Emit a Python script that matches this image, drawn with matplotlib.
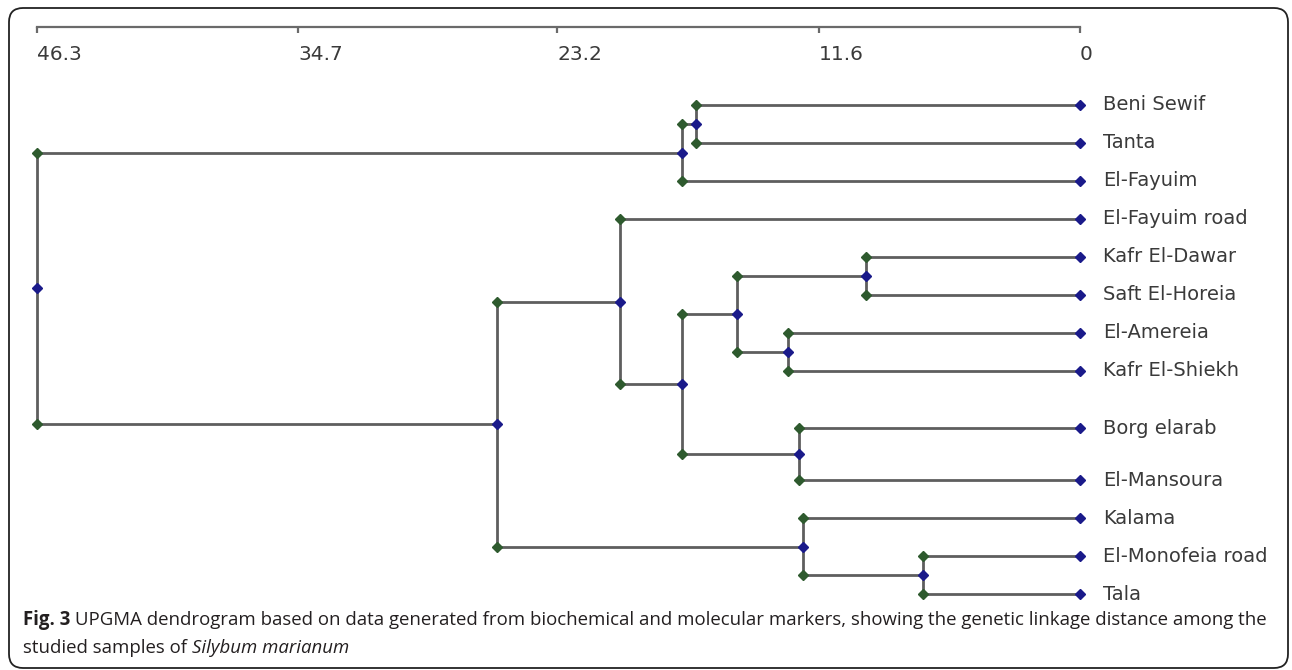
import numpy as np
import matplotlib.pyplot as plt
from matplotlib.patches import FancyBboxPatch

W, H = 1292, 670

labels = ["Beni Sewif", "Tanta", "El-Fayuim", "El-Fayuim road", "Kafr El-Dawar",
          "Saft El-Horeia", "El-Amereia", "Kafr El-Shiekh", "Borg elarab",
          "El-Mansoura", "Kalama", "El-Monofeia road", "Tala"]

# UPGMA joins: ids < 13 are samples, id 13+k is the k-th join below
join_a = [0, 13, 4, 6, 15, 8, 17, 3, 11, 10, 20, 14]
join_b = [1, 2, 5, 7, 16, 9, 18, 19, 12, 21, 22, 23]
join_dist = [17.05, 17.67, 9.50, 12.96, 15.23, 12.47, 17.67, 20.42, 6.97, 12.30, 25.88, 46.3]

tick_vals = [46.3, 34.7, 23.2, 11.6, 0]
tick_text = ["46.3", "34.7", "23.2", "11.6", "0"]

line_col = "#5e5e5e"
green = "#2e5a2e"
blue = "#1a1a8a"
txt_col = "#3a3a3a"

fig = plt.figure(figsize=(W / 100, H / 100), dpi=100)

# rounded frame around the whole figure
frame = fig.add_axes([0, 0, 1, 1])
frame.set_xlim(0, W)
frame.set_ylim(H, 0)
frame.axis("off")
frame.add_patch(FancyBboxPatch((9, 8), W - 13, H - 10,
                               boxstyle="round,pad=0,rounding_size=14",
                               fill=False, ec="#222222", lw=1.3))

# dendrogram axes: top spine is the distance scale
top_px, bot_px, row0_px, row_px = 27, 610, 105, 38
ax = fig.add_axes([37 / W, 1 - bot_px / H, (1080 - 37) / W, (bot_px - top_px) / H])
ax.set_xlim(46.3, 0)
ax.set_ylim((bot_px - row0_px) / row_px, -(row0_px - top_px) / row_px)
ax.patch.set_alpha(0)
for s in ["left", "right", "bottom"]:
    ax.spines[s].set_visible(False)
ax.spines["top"].set_color("#6a6a6a")
ax.spines["top"].set_linewidth(1.6)
ax.xaxis.tick_top()
ax.set_xticks(tick_vals)
ax.tick_params(axis="x", direction="in", length=4, width=1.6, color="#6a6a6a",
               labeltop=False, labelbottom=False)
ax.set_yticks([])
for v, t in zip(tick_vals, tick_text):
    ax.annotate(t, xy=(v, 1), xycoords=("data", "axes fraction"),
                xytext=(0, -20), textcoords="offset points",
                ha="left", va="center", fontsize=14.5, color=txt_col,
                family="DejaVu Sans")

# leaf rows (original leaves a wider gap around Borg elarab)
rows = np.arange(len(labels), dtype=float)
rows[8] += 0.5
rows[9:] += 0.87

ypos = {i: rows[i] for i in range(len(labels))}
xpos = {i: 0.0 for i in range(len(labels))}
n = len(labels)
for k, (a, b, d) in enumerate(zip(join_a, join_b, join_dist)):
    ya, yb = ypos[a], ypos[b]
    ym = (ya + yb) / 2
    ax.plot([d, d], [ya, yb], color=line_col, lw=2, zorder=1, clip_on=False)
    ax.plot([d, xpos[a]], [ya, ya], color=line_col, lw=2, zorder=1, clip_on=False)
    ax.plot([d, xpos[b]], [yb, yb], color=line_col, lw=2, zorder=1, clip_on=False)
    ax.plot([d, d], [ya, yb], ls="none", marker="D", ms=5.5, color=green, zorder=3,
            clip_on=False)
    ax.plot([d], [ym], ls="none", marker="D", ms=5.5, color=blue, zorder=3, clip_on=False)
    ypos[n + k] = ym
    xpos[n + k] = d

ax.plot(np.zeros(n), rows, ls="none", marker="D", ms=5.5, color=blue, zorder=3,
        clip_on=False)
for name, r in zip(labels, rows):
    ax.annotate(name, xy=(0, r), xytext=(16.5, 0), textcoords="offset points",
                ha="left", va="center", fontsize=14, color=txt_col,
                family="DejaVu Sans")

# caption
cap_font = ["Open Sans", "DejaVu Sans"]
cap_size = 13.45
cap_col = "#231f20"
rend = fig.canvas.get_renderer()


def text_w(s, **kw):
    t = fig.text(0, 0, s, fontsize=cap_size, family=cap_font, **kw)
    w = t.get_window_extent(rend).width
    t.remove()
    return w


space_w = text_w("x x") - text_w("xx")


def put_runs(x_px, base_px, runs):
    x = x_px
    for s, weight, style in runs:
        t = fig.text(x / W, 1 - base_px / H, s, fontsize=cap_size, family=cap_font,
                     weight=weight, style=style, color=cap_col, va="baseline")
        x += t.get_window_extent(rend).width + space_w


put_runs(23, 625, [("Fig. 3", "bold", "normal"),
                   ("UPGMA dendrogram based on data generated from biochemical and molecular "
                    "markers, showing the genetic linkage distance among the", "normal", "normal")])
put_runs(23, 653, [("studied samples of", "normal", "normal"),
                   ("Silybum marianum", "normal", "italic")])

fig.savefig("out.png", dpi=100)
